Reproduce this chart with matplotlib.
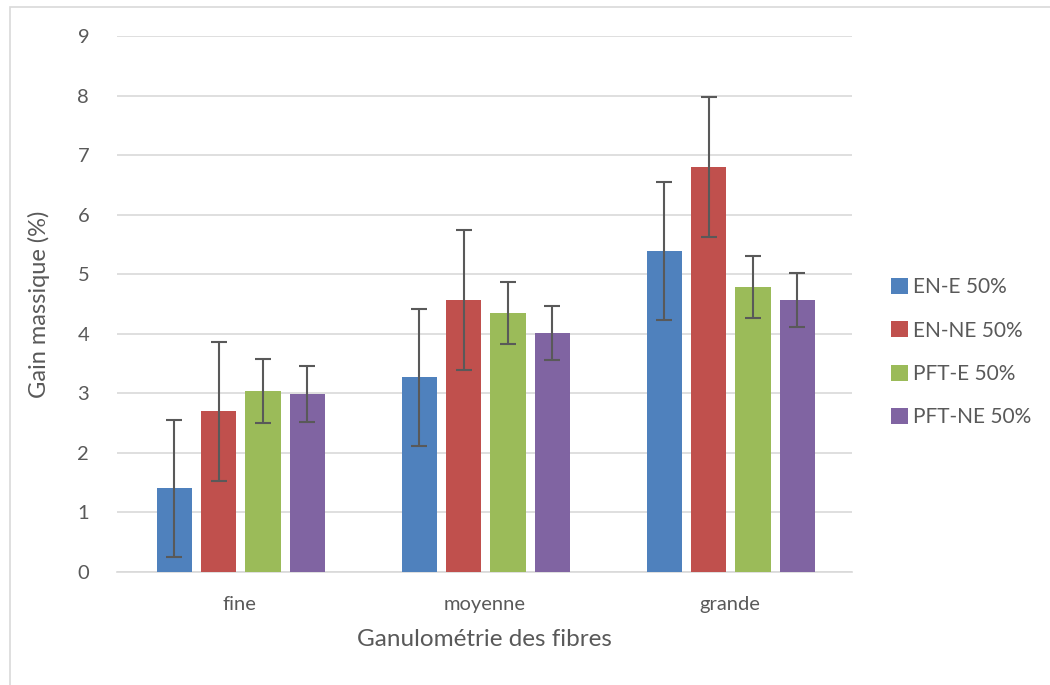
import matplotlib
matplotlib.use("Agg")
import matplotlib.pyplot as plt
import numpy as np
from matplotlib.patches import Rectangle

categories = ["fine", "moyenne", "grande"]
series = ["EN-E 50%", "EN-NE 50%", "PFT-E 50%", "PFT-NE 50%"]
colors = ["#4f81bd", "#c0504d", "#9bbb59", "#8064a2"]
values = {
    "EN-E 50%":   [1.41, 3.27, 5.39],
    "EN-NE 50%":  [2.70, 4.57, 6.80],
    "PFT-E 50%":  [3.04, 4.35, 4.79],
    "PFT-NE 50%": [2.99, 4.01, 4.57],
}
errors = {
    "EN-E 50%":   [1.15, 1.15, 1.16],
    "EN-NE 50%":  [1.17, 1.18, 1.18],
    "PFT-E 50%":  [0.53, 0.52, 0.52],
    "PFT-NE 50%": [0.47, 0.45, 0.45],
}

plt.rcParams['font.family'] = ['Lato', 'DejaVu Sans']
txt = "#595959"

fig = plt.figure(figsize=(10.5, 6.85), dpi=100)
ax = fig.add_axes([117/1050, 1-572/685, (852-117)/1050, (572-36)/685])

# chart border
fig.patches.append(Rectangle((10/1050, -0.05), 1.1, 1-7/685+0.05, transform=fig.transFigure,
                             fill=False, edgecolor="#d9d9d9", linewidth=1.2))

x = np.arange(len(categories))
pitch = 0.181
width = 0.144
for i, s in enumerate(series):
    pos = x + (i - 1.5) * pitch + 0.005
    ax.bar(pos, values[s], width, color=colors[i], label=s, zorder=3)
    ax.errorbar(pos, values[s], yerr=errors[s], fmt="none", ecolor="#595959",
                elinewidth=1.5, capsize=6, capthick=1.5, zorder=4)

ax.set_xlim(-0.5, 2.5)
ax.set_ylim(0, 9)
ax.set_yticks(range(0, 10))
ax.yaxis.grid(True, color="#d9d9d9", linewidth=1.2, zorder=0)
ax.set_axisbelow(True)
for sp in ["top", "right", "left"]:
    ax.spines[sp].set_visible(False)
ax.spines["bottom"].set_color("#d9d9d9")
ax.spines["bottom"].set_linewidth(1.2)
ax.tick_params(axis="both", length=0, labelsize=14.5, colors=txt)
ax.tick_params(axis="y", pad=20)
ax.tick_params(axis="x", pad=17)
ax.set_xticks(x)
ax.set_xticklabels(categories)
ax.set_xlabel("Ganulométrie des fibres", fontsize=17.5, color=txt, labelpad=12)
ax.set_ylabel("Gain massique (%)", fontsize=17, color=txt, labelpad=20)

leg = ax.legend(loc="center left", bbox_to_anchor=(1.028, 0.41), frameon=False,
                fontsize=15, labelcolor=txt, handlelength=0.8, handleheight=0.8,
                handletextpad=0.25, labelspacing=1.12)

fig.savefig("out.png", dpi=100)
